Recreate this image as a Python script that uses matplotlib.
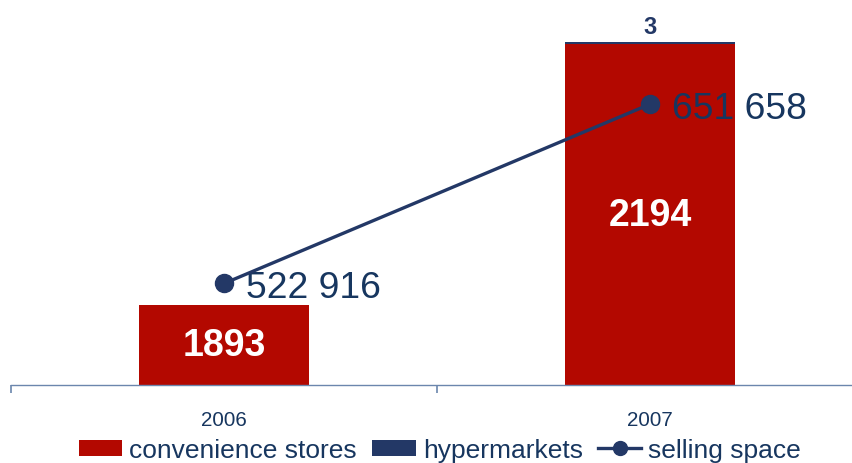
import matplotlib
matplotlib.use("Agg")
import matplotlib.pyplot as plt
from matplotlib.patches import Patch
from matplotlib.lines import Line2D

plt.rcParams['font.family'] = ['Liberation Sans', 'DejaVu Sans']

years = ["2006", "2007"]
convenience_stores = [1893, 2194]
hypermarkets = [0, 3]
selling_space = [522916, 651658]

RED = "#b30800"
NAVY = "#233866"
TEXT = "#17365f"
AXIS = "#6b86ad"

fig = plt.figure(figsize=(8.53, 4.64), dpi=100)
ax = fig.add_axes([11 / 853, 78 / 464, 852 / 853, 376 / 464])

x = list(range(len(years)))
width = 0.4
ax.bar(x, convenience_stores, width, color=RED, zorder=2)
ax.bar(x, hypermarkets, width, bottom=convenience_stores, color=NAVY, zorder=2)

ymin, ymax = 1800, 2235
ax.set_ylim(ymin, ymax)
ax.set_xlim(-0.5, len(years) - 0.5)

for xi, c, h in zip(x, convenience_stores, hypermarkets):
    ax.text(xi, (max(ymin, 0) + c) / 2, f"{c}", ha="center", va="center",
            color="white", fontsize=27, fontweight="bold", zorder=3)
    if h:
        ax.annotate(f"{h}", (xi, c + h), xytext=(0, 3), textcoords="offset points",
                    ha="center", va="bottom", color=NAVY, fontsize=17,
                    fontweight="bold")

for side in ("top", "right", "left"):
    ax.spines[side].set_visible(False)
ax.spines["bottom"].set_color(AXIS)
ax.spines["bottom"].set_linewidth(1.0)
ax.set_yticks([])
ax.set_xticks(x)
ax.set_xticklabels(years, fontsize=14.8, color=TEXT)
ax.tick_params(axis="x", which="major", length=0, pad=18)
ax.set_xticks([i - 0.5 for i in range(len(years) + 1)], minor=True)
ax.tick_params(axis="x", which="minor", length=6, width=1.2, color=AXIS, direction="out")

ax2 = ax.twinx()
ax2.set_ylim(450000, 720000)
ax2.axis("off")
ax2.plot(x, selling_space, color=NAVY, linewidth=2.4, marker="o", markersize=13, zorder=4)
for xi, v in zip(x, selling_space):
    label = f"{v:,}".replace(",", " ")
    ax2.annotate(label, (xi, v), xytext=(16, 0), textcoords="offset points",
                 ha="left", va="center_baseline", color=TEXT, fontsize=26.8)

handles = [
    Patch(facecolor=RED, edgecolor="none", label="convenience stores"),
    Patch(facecolor=NAVY, edgecolor="none", label="hypermarkets"),
    Line2D([0], [0], color=NAVY, linewidth=2.4, marker="o", markersize=10,
           label="selling space"),
]
leg = fig.legend(handles=handles, loc="center", bbox_to_anchor=(440 / 853, 13 / 464),
                 ncol=3, frameon=False, fontsize=19, handlelength=1.65,
                 handleheight=0.57, handletextpad=0.27, columnspacing=0.57,
                 borderaxespad=0, borderpad=0)
for t in leg.get_texts():
    t.set_color(TEXT)

fig.savefig("out.png", dpi=100)
